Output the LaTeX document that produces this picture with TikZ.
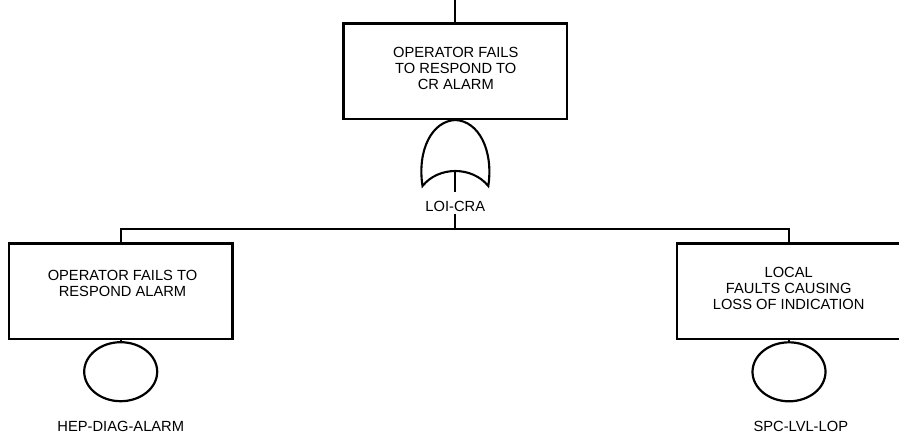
\documentclass[tikz,border=0pt]{standalone}
\usepackage{fontspec}
\setmainfont{Liberation Sans}
\usetikzlibrary{shapes.geometric}
\begin{document}
\begin{tikzpicture}[x=1pt,y=-1pt,
  every node/.style={font=\fontsize{14.7}{16}\selectfont},
  evbox/.style={draw, line width=2.4pt, rectangle, minimum width=223.5pt, minimum height=95.7pt, inner sep=0pt},
  evtext/.style={align=center, inner sep=0pt},
  basic/.style={draw, line width=2.2pt, ellipse, minimum width=73pt, minimum height=59pt, inner sep=0pt},
  idlabel/.style={inner sep=0pt, text height=10.5pt, text depth=0pt, anchor=base},
  conn/.style={line width=2.1pt}
]
\useasboundingbox (0,0) rectangle (899,434);
\clip (0,0) rectangle (899,434);

% top event
\node[evbox] (top) at (455.3,71.2) {};
\coordinate (topin) at (455.3,0);
\node[evtext] (toptxt) at (455.8,68.5) {OPERATOR FAILS\\TO RESPOND TO\\CR ALARM};

% OR gate
\coordinate (gapex) at (455.3,120);
\coordinate (ginner) at (455.3,171);
\draw[conn] (422.5,186) .. controls (417,150) and (432,121) .. (gapex)
  .. controls (478.6,121) and (493.6,150) .. (488.3,186)
  .. controls (472,166) and (438.6,166) .. cycle;
\node[idlabel] (loi) at (455.3,211.7) {LOI-CRA};
\coordinate (bus) at (455.3,229.3);

% left event
\node[evbox] (lbox) at (120.7,291.2) {};
\node[evtext] (ltxt) at (122.5,283) {OPERATOR FAILS TO\\RESPOND ALARM};
\node[basic] (lcirc) at (120.7,371.7) {};
\node[idlabel] (llab) at (120.8,431.5) {HEP-DIAG-ALARM};

% right event
\node[evbox] (rbox) at (789,291.2) {};
\node[evtext] (rtxt) at (788.7,288) {LOCAL\\FAULTS CAUSING\\LOSS OF INDICATION};
\node[basic] (rcirc) at (789,371.8) {};
\node[idlabel] (rlab) at (800.8,431.5) {SPC-LVL-LOP};

% connectors
\draw[conn] (topin) -- (top.north);
\draw[conn] (top.south) -- (gapex);
\draw[conn, shorten >=9pt] (ginner) -- (loi.north);
\draw[conn, shorten <=2pt] (loi.south) -- (bus);
\draw[conn] (lbox.north) |- (bus) -| (rbox.north);
\draw[conn] (lbox.south) -- (lcirc.north);
\draw[conn] (rbox.south) -- (rcirc.north);
\end{tikzpicture}
\end{document}
